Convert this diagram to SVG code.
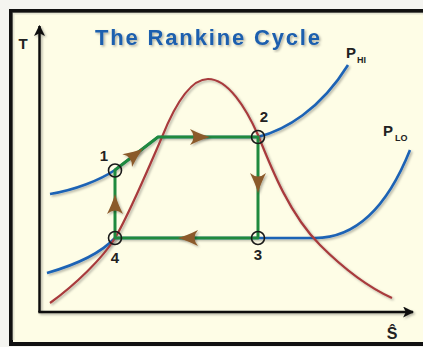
<svg xmlns="http://www.w3.org/2000/svg" width="423" height="347" viewBox="0 0 423 347">
<defs>
<style>
.ax{fill:none;stroke:#111;stroke-width:2.5}
.sat{fill:none;stroke:#a83a3c;stroke-width:2.2}
.iso{fill:none;stroke:#1e63b5;stroke-width:2.6}
.cyc{fill:none;stroke:#1f8a3e;stroke-width:3;stroke-linejoin:round}
.pt{fill:none;stroke:#1a1a1a;stroke-width:1.6}
.lbl{font-family:"Liberation Sans",Arial,sans-serif;font-weight:bold;fill:#222}
.dir{fill:#8b5a2b}
</style>
<filter id="sh" x="-10%" y="-10%" width="120%" height="120%">
<feDropShadow dx="1.5" dy="1.5" stdDeviation="1.2" flood-color="#000" flood-opacity="0.3"/>
</filter>
<marker id="ah" viewBox="0 0 10 10" refX="9" refY="5" markerWidth="4.4" markerHeight="4.4" orient="auto" markerUnits="strokeWidth">
<path d="M0,0 L10,5 L0,10 L2.5,5 Z" fill="#111"/>
</marker>
<path id="arr" d="M0,0 Q-9,-2.5 -20,-8 Q-13,0 -20,8 Q-9,2.5 0,0 Z"/>
</defs>
<rect x="0" y="0" width="423" height="347" fill="#f4f4f0"/>
<rect x="11" y="11" width="430" height="333" fill="#fefde6" stroke="#111" stroke-width="4"/>
<path d="M13.5,340 V13.5 H423" fill="none" stroke="#d8d8c8" stroke-width="2" opacity="0.7"/>

<g id="axes" filter="url(#sh)">
<path class="ax" d="M39.5,312 V26" marker-end="url(#ah)"/>
<path class="ax" d="M38.3,312 H413" marker-end="url(#ah)"/>
</g>
<g id="axis-labels">
<text class="lbl" x="23" y="49" font-size="15" text-anchor="middle">T</text>
<text class="lbl" x="392" y="339" font-size="16" text-anchor="middle">Ŝ</text>
</g>
<g id="title">
<text x="207.5" y="45" font-family="'Liberation Sans',Arial,sans-serif" font-weight="bold" font-size="22" fill="#1c5fae" text-anchor="middle" textLength="225" lengthAdjust="spacing" filter="url(#sh)">The Rankine Cycle</text>
</g>

<g id="isobars" filter="url(#sh)">
<path id="p-hi" class="iso" d="M50,194 C75,190 100,180 115,170 L158,137 L258,137 C285,130 320,110 348,65"/>
<path id="p-lo" class="iso" d="M47,273 C75,265 100,254 115,238 L315,238 C360,238 390,200 410,150"/>
</g>
<g id="saturation-dome" filter="url(#sh)">
<path class="sat" d="M50,303 C75,285 103,258 115,238 C127,218 150,165 162,137 C172,112 188,79 208,79 C228,79 246,108 258,135 C272,170 290,215 320,245 C345,270 370,288 392,298"/>
</g>
<g id="isobar-labels">
<text class="lbl" x="346" y="58" font-size="15">P</text>
<text class="lbl" x="357" y="63" font-size="9">HI</text>
<text class="lbl" x="383" y="136" font-size="15">P</text>
<text class="lbl" x="395" y="141" font-size="9">LO</text>
</g>

<g id="connectors">
<path class="cyc" d="M115,238 L115,170 L158,137 L258,137 L258,238 Z"/>
<g class="dir" filter="url(#sh)">
<use href="#arr" transform="translate(143,148.5) rotate(-37.5)"/>
<use href="#arr" transform="translate(210,137)"/>
<use href="#arr" transform="translate(258,193) rotate(90)"/>
<use href="#arr" transform="translate(178,238) rotate(180)"/>
<use href="#arr" transform="translate(115,194) rotate(-90)"/>
</g>
</g>

<g id="state-1">
<circle class="pt" cx="115" cy="170.5" r="6.5"/>
<text class="lbl" x="104" y="161" font-size="15" text-anchor="middle">1</text>
</g>
<g id="state-2">
<circle class="pt" cx="258" cy="137" r="6.5"/>
<text class="lbl" x="264" y="122" font-size="15" text-anchor="middle">2</text>
</g>
<g id="state-3">
<circle class="pt" cx="258" cy="238" r="6.5"/>
<text class="lbl" x="258" y="260" font-size="15" text-anchor="middle">3</text>
</g>
<g id="state-4">
<circle class="pt" cx="115" cy="238" r="6.5"/>
<text class="lbl" x="115" y="263" font-size="15" text-anchor="middle">4</text>
</g>
</svg>
